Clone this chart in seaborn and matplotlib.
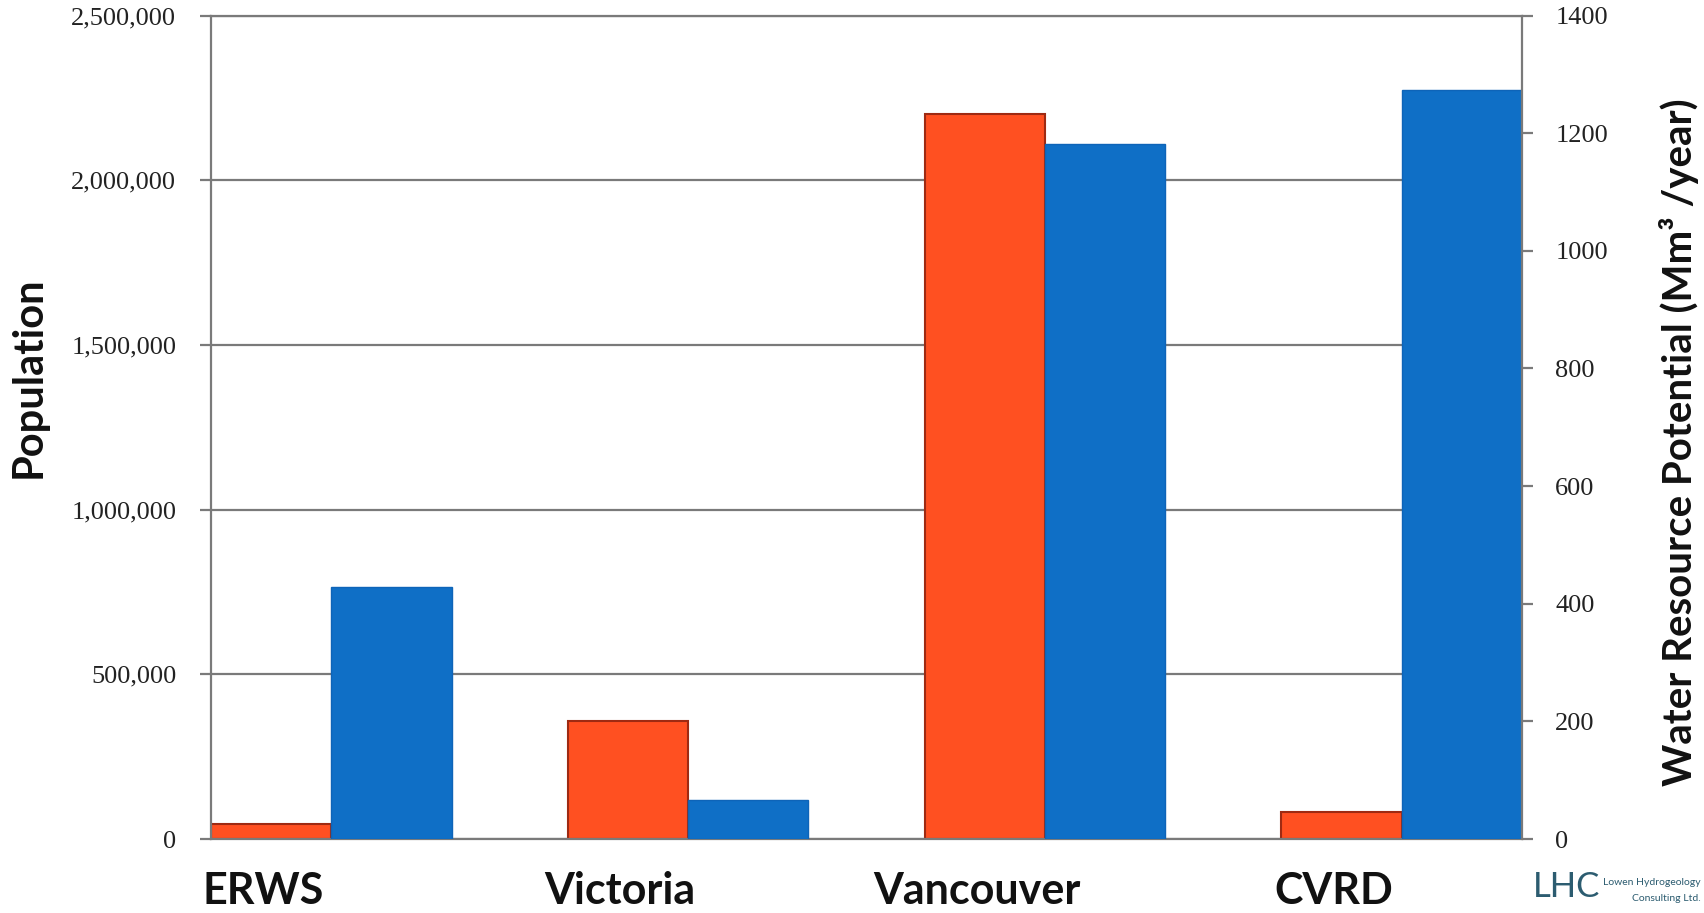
import numpy as np
import pandas as pd
import matplotlib
matplotlib.use("Agg")
import matplotlib.pyplot as plt
import seaborn as sns

# Regional population vs. estimated water resource potential
regions = ["ERWS", "Victoria", "Vancouver", "CVRD"]
population = [45000, 358000, 2202000, 83000]
water_potential = [429, 66, 1182, 1273]  # Mm³/year

pop_ticks = [0, 500000, 1000000, 1500000, 2000000, 2500000]
water_ticks = [0, 200, 400, 600, 800, 1000, 1200, 1400]
series_order = ["Population", "Water"]

pop_df = pd.DataFrame({"region": regions, "value": population, "series": "Population"})
water_df = pd.DataFrame({"region": regions, "value": water_potential, "series": "Water"})

sns.set_style("white")
plt.rcParams["font.family"] = ["Lato", "DejaVu Sans"]

W, H = 1704, 913
fig = plt.figure(figsize=(W / 100, H / 100), dpi=100)
ax = fig.add_axes([211 / W, 1 - 839 / H, 1311 / W, (839 - 15.5) / H])
ax2 = ax.twinx()

palette = {"Population": "#FF5021", "Water": "#0F6FC6"}
common = dict(x="region", y="value", hue="series", hue_order=series_order,
              order=regions, palette=palette, width=0.674, gap=0, dodge=True,
              errorbar=None, saturation=1, legend=False)
sns.barplot(data=pop_df, ax=ax, **common)
sns.barplot(data=water_df, ax=ax2, **common)

for p in ax.patches:
    p.set_edgecolor("#9E2A12")
    p.set_linewidth(1.5)
for p in ax2.patches:
    p.set_edgecolor("#0E64B8")
    p.set_linewidth(1.0)

grey = "#7a7a7a"
tick_font = dict(fontfamily="Liberation Serif", fontsize=19, color="#222222")

ax.set_xlim(-0.337, 3.337)
ax.set_ylim(0, 2500000)
ax.set_yticks(pop_ticks, labels=[f"{v:,}" for v in pop_ticks], **tick_font)
ax.yaxis.grid(True, color=grey, linewidth=1.6)
ax.set_axisbelow(True)
ax.tick_params(axis="y", length=8, width=1.6, color=grey, pad=17)

ax.set_xticks(np.arange(len(regions)) - 0.19, labels=regions,
              fontsize=31, fontweight="bold", color="#111111")
ax.tick_params(axis="x", length=0, pad=23)
ax.set_xlabel("")

ax2.set_ylim(0, 1400)
ax2.set_yticks(water_ticks, labels=[str(v) for v in water_ticks], **tick_font)
ax2.tick_params(axis="y", length=8, width=1.6, color=grey, pad=16)
ax2.set_xlim(-0.337, 3.337)

for s in ["left", "bottom", "top"]:
    ax.spines[s].set_visible(True)
    ax.spines[s].set_color(grey)
    ax.spines[s].set_linewidth(1.6)
ax.spines["right"].set_visible(False)
for s in ["left", "bottom", "top"]:
    ax2.spines[s].set_visible(False)
ax2.spines["right"].set_visible(True)
ax2.spines["right"].set_color(grey)
ax2.spines["right"].set_linewidth(1.6)

ax.set_ylabel("Population", fontsize=30, fontweight="bold", color="#111111", va="center")
ax.yaxis.set_label_coords(-0.139, 0.561)
ax2.set_ylabel("Water Resource Potential (Mm³ /year)", fontsize=29, fontweight="bold",
               color="#111111", va="center", rotation=90)
ax2.yaxis.set_label_coords(1.1197, 0.482)

# Company mark in the lower right corner
fig.text(1533 / W, 1 - 897 / H, "LHC", fontsize=25, fontweight="normal",
         color="#2C5C70", ha="left", va="baseline")
fig.text(1701 / W, 1 - 882 / H, "Lowen Hydrogeology", fontsize=7.5,
         color="#2C5C70", ha="right", va="center")
fig.text(1701 / W, 1 - 898 / H, "Consulting Ltd.", fontsize=7.5,
         color="#2C5C70", ha="right", va="center")

fig.savefig("out.png", dpi=100, facecolor="white")
